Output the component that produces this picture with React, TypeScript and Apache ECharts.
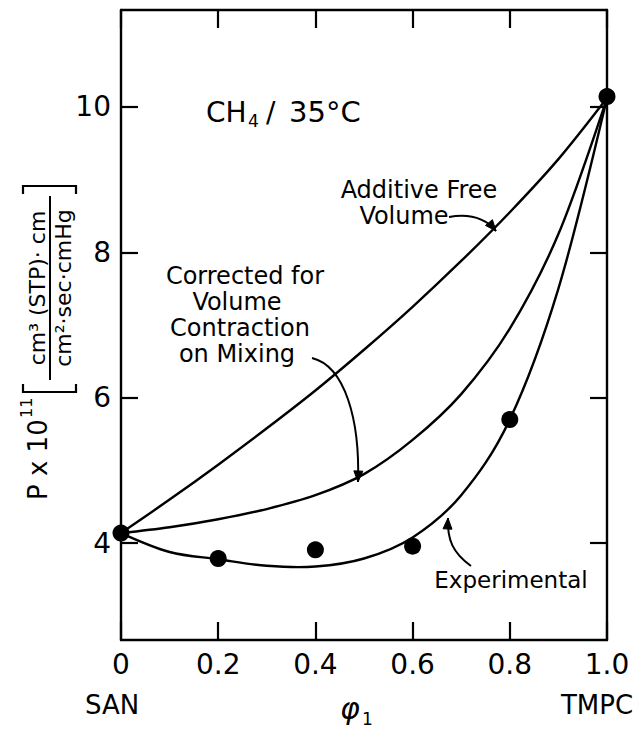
import React, { useEffect, useRef } from "react";
import * as echarts from "echarts";

// ---- data ----
const curvePhi = [0, 0.1, 0.2, 0.3, 0.4, 0.5, 0.6, 0.7, 0.8, 0.9, 1.0];
const additiveP = [4.14, 4.6, 5.08, 5.58, 6.1, 6.66, 7.25, 7.88, 8.55, 9.28, 10.12];
const correctedP = [4.14, 4.22, 4.33, 4.47, 4.66, 4.95, 5.42, 6.05, 6.95, 8.25, 10.12];
const experimentalP = [4.14, 3.88, 3.78, 3.69, 3.68, 3.79, 4.08, 4.66, 5.7, 7.5, 10.12];

const pointPhi = [0, 0.2, 0.4, 0.6, 0.8, 1.0];
const pointP = [4.14, 3.79, 3.91, 3.96, 5.7, 10.14];

const yTickValues = [4, 6, 8, 10];
const xMin = 0;
const xMax = 1.0;
const xInterval = 0.2;
const yMin = 2.67;
const yMax = 11.33;

const FONT = '"DejaVu Sans", "Liberation Sans", sans-serif';
const INK = "#000";

const zip = (xs: number[], ys: number[]) => xs.map((x, i) => [x, ys[i]]);

// cubic Hermite path through pixel points (x increasing)
function smoothPath(pts: number[][]) {
  const n = pts.length;
  const d: number[] = [];
  for (let i = 0; i < n - 1; i++) {
    d.push((pts[i + 1][1] - pts[i][1]) / (pts[i + 1][0] - pts[i][0]));
  }
  const m: number[] = new Array(n).fill(0);
  for (let i = 1; i < n - 1; i++) {
    m[i] = (pts[i + 1][1] - pts[i - 1][1]) / (pts[i + 1][0] - pts[i - 1][0]);
  }
  m[0] = (3 * d[0] - m[1]) / 2;
  m[n - 1] = (3 * d[n - 2] - m[n - 2]) / 2;
  let s = `M${pts[0][0]},${pts[0][1]}`;
  for (let i = 0; i < n - 1; i++) {
    const h = pts[i + 1][0] - pts[i][0];
    const c1x = pts[i][0] + h / 3;
    const c1y = pts[i][1] + (m[i] * h) / 3;
    const c2x = pts[i + 1][0] - h / 3;
    const c2y = pts[i + 1][1] - (m[i + 1] * h) / 3;
    s += ` C${c1x},${c1y} ${c2x},${c2y} ${pts[i + 1][0]},${pts[i + 1][1]}`;
  }
  return s;
}

function arrowHead(tx: number, ty: number, fx: number, fy: number, len = 11, half = 4.5) {
  const dx = tx - fx;
  const dy = ty - fy;
  const dd = Math.hypot(dx, dy) || 1;
  const ux = dx / dd;
  const uy = dy / dd;
  const bx = tx - ux * len;
  const by = ty - uy * len;
  return {
    type: "polygon",
    shape: {
      points: [
        [tx, ty],
        [bx - uy * half, by + ux * half],
        [bx + uy * half, by - ux * half],
      ],
    },
    style: { fill: INK, stroke: INK, lineWidth: 1 },
    silent: true,
  };
}

function curvedArrow(x1: number, y1: number, c1x: number, c1y: number, c2x: number, c2y: number, x2: number, y2: number) {
  return [
    {
      type: "bezierCurve",
      shape: { x1, y1, cpx1: c1x, cpy1: c1y, cpx2: c2x, cpy2: c2y, x2, y2 },
      style: { stroke: INK, lineWidth: 2, fill: null },
      silent: true,
    },
    arrowHead(x2, y2, c2x, c2y),
  ];
}

function txt(text: string, x: number, y: number, size: number, align = "center", vAlign = "middle", extra: any = {}) {
  return {
    type: "text",
    x,
    y,
    silent: true,
    style: {
      text,
      fontSize: size,
      fontFamily: FONT,
      fill: INK,
      align,
      verticalAlign: vAlign,
      ...extra,
    },
  };
}

export default function App() {
  const ref = useRef<HTMLDivElement>(null);

  useEffect(() => {
    if (!ref.current) return;
    const chart = echarts.init(ref.current, null, { renderer: "svg" });

    const curveSeries = (name: string, xs: number[], ys: number[]) => ({
      name,
      type: "custom",
      coordinateSystem: "cartesian2d",
      data: [[xs[0], ys[0]]],
      clip: false,
      silent: true,
      z: 2,
      renderItem: (_params: any, api: any) => {
        const pts = xs.map((x, i) => api.coord([x, ys[i]]));
        return {
          type: "path",
          shape: { pathData: smoothPath(pts) },
          style: { stroke: INK, lineWidth: 2.4, fill: "none" },
        };
      },
    });

    const axisTickStyle = { lineStyle: { color: INK, width: 2.2 } };

    const yTitle = {
      type: "group",
      x: 49,
      y: 500,
      rotation: Math.PI / 2,
      silent: true,
      children: [
        txt("P x 10", 0, -11, 26, "left", "middle"),
        txt("11", 82, -23, 16, "left", "middle"),
        {
          type: "polyline",
          shape: { points: [[116, -26], [108, -26], [108, 27], [116, 27]] },
          style: { stroke: INK, lineWidth: 2.2, fill: null },
        },
        txt("cm³ (STP)· cm", 212, -12, 22, "center", "middle"),
        {
          type: "line",
          shape: { x1: 120, y1: 1, x2: 304, y2: 1 },
          style: { stroke: INK, lineWidth: 2 },
        },
        txt("cm²·sec·cmHg", 212, 14, 22, "center", "middle"),
        {
          type: "polyline",
          shape: { points: [[306, -26], [314, -26], [314, 27], [306, 27]] },
          style: { stroke: INK, lineWidth: 2.2, fill: null },
        },
      ],
    };

    const option: any = {
      animation: false,
      backgroundColor: "#fff",
      grid: { left: 121, right: 29, top: 10, bottom: 105, containLabel: false, outerBoundsMode: "none" },
      xAxis: [
        {
          type: "value",
          position: "bottom",
          min: xMin,
          max: xMax,
          interval: xInterval,
          axisLine: { show: true, onZero: false, lineStyle: { color: INK, width: 2.4 } },
          axisTick: { show: true, inside: true, length: 18, ...axisTickStyle },
          axisLabel: {
            show: true,
            margin: 10,
            color: INK,
            fontSize: 28,
            fontFamily: FONT,
            formatter: (v: number) => (v === 0 ? "0" : v.toFixed(1)),
          },
          splitLine: { show: false },
        },
        {
          type: "value",
          position: "top",
          min: xMin,
          max: xMax,
          interval: xInterval,
          axisLine: { show: true, onZero: false, lineStyle: { color: INK, width: 2.4 } },
          axisTick: { show: true, inside: true, length: 18, ...axisTickStyle },
          axisLabel: { show: false },
          splitLine: { show: false },
        },
      ],
      yAxis: [
        {
          type: "value",
          position: "left",
          min: yMin,
          max: yMax,
          axisLine: { show: true, onZero: false, lineStyle: { color: INK, width: 2.4 } },
          axisTick: { show: true, inside: true, length: 17, customValues: yTickValues, ...axisTickStyle },
          axisLabel: {
            show: true,
            margin: 10,
            color: INK,
            fontSize: 28,
            fontFamily: FONT,
            customValues: yTickValues,
            formatter: (v: number) => String(Math.round(v)),
          },
          splitLine: { show: false },
        },
        {
          type: "value",
          position: "right",
          min: yMin,
          max: yMax,
          axisLine: { show: true, onZero: false, lineStyle: { color: INK, width: 2.4 } },
          axisTick: { show: true, inside: true, length: 17, customValues: yTickValues, ...axisTickStyle },
          axisLabel: { show: false },
          splitLine: { show: false },
        },
      ],
      series: [
        curveSeries("Additive Free Volume", curvePhi, additiveP),
        curveSeries("Corrected for Volume Contraction on Mixing", curvePhi, correctedP),
        curveSeries("Experimental", curvePhi, experimentalP),
        {
          name: "Data",
          type: "scatter",
          data: zip(pointPhi, pointP),
          symbol: "circle",
          symbolSize: 17,
          itemStyle: { color: INK, opacity: 1 },
          z: 5,
        },
      ],
      graphic: [
        // title inside plot
        txt("CH", 206, 112, 28, "left", "middle"),
        txt("4", 248, 121, 17, "left", "middle"),
        txt("/", 266, 112, 28, "left", "middle"),
        txt("35°C", 289, 112, 29, "left", "middle"),
        // Additive Free Volume label
        txt("Additive Free", 419, 190, 24),
        txt("Volume", 404, 216, 24),
        ...curvedArrow(449, 217, 472, 213, 486, 219, 496, 231),
        // Corrected label
        txt("Corrected for", 245, 276, 24),
        txt("Volume", 237, 302, 24),
        txt("Contraction", 240, 328, 24),
        txt("on Mixing", 237, 354, 24),
        ...curvedArrow(312, 358, 345, 366, 360, 420, 358, 482),
        // Experimental label
        txt("Experimental", 511, 580, 23),
        ...curvedArrow(471, 566, 453, 553, 447, 540, 448, 518),
        // x-axis extras
        txt("SAN", 112, 705, 26),
        txt("TMPC", 597, 705, 26),
        txt("φ", 350, 708, 30, "center", "middle", { fontStyle: "italic" }),
        txt("1", 362, 719, 17, "left", "middle"),
        yTitle,
      ],
    };

    chart.setOption(option);
    return () => chart.dispose();
  }, []);

  return (
    <div
      ref={ref}
      style={{ position: "absolute", left: 0, top: 0, width: 636, height: 745 }}
    />
  );
}
